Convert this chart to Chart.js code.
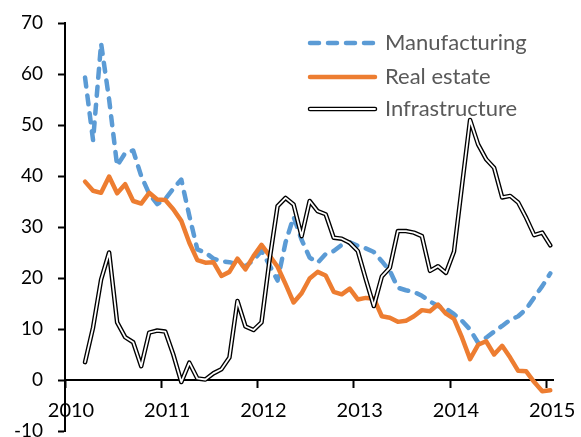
<!DOCTYPE html>
<html>
<head>
<meta charset="utf-8">
<script src="https://cdn.jsdelivr.net/npm/chart.js@4/dist/chart.umd.min.js"></script>
<style>
html,body{margin:0;padding:0;background:#fff;}
#wrap{width:581px;height:437px;position:relative;}
</style>
</head>
<body>
<div id="wrap"><canvas id="c" width="581" height="437"></canvas></div>
<script>
// ---- data ----
const months = [
  '2010-03','2010-04','2010-05','2010-06','2010-07','2010-08','2010-09','2010-10','2010-11','2010-12',
  '2011-01','2011-02','2011-03','2011-04','2011-05','2011-06','2011-07','2011-08','2011-09','2011-10','2011-11','2011-12',
  '2012-01','2012-02','2012-03','2012-04','2012-05','2012-06','2012-07','2012-08','2012-09','2012-10','2012-11','2012-12',
  '2013-01','2013-02','2013-03','2013-04','2013-05','2013-06','2013-07','2013-08','2013-09','2013-10','2013-11','2013-12',
  '2014-01','2014-02','2014-03','2014-04','2014-05','2014-06','2014-07','2014-08','2014-09','2014-10','2014-11','2014-12',
  '2015-01'
];
const manufacturing = [
  59.3, 47, 66, 55, 42, 44.5, 45, 40, 36.5, 34.5,
  35.5, 37.5, 39.3, 32.2, 25.6, 25, 23.8, 23.3, 23.1, 22.7, 22.3, 23.5,
  25.3, 22.5, 19.5, 27, 32, 27.5, 24, 23, 24.7, 25.3, 26.5, 27,
  26.3, 25.8, 25.1, 23.3, 21.4, 18.1, 17.6, 17.3, 16.5, 15.4, 14.5, 14,
  12.9, 11.6, 9.9, 7.3, 8.3, 9.5, 10.6, 11.8, 12.5, 13.9, 16.2, 18.4,
  20.9
];
const realEstate = [
  38.9, 37.1, 36.7, 39.9, 36.6, 38.4, 35.1, 34.6, 36.7, 35.4,
  35.3, 33.5, 31.2, 26.9, 23.5, 23, 23.1, 20.4, 21.2, 23.8, 21.7, 24.3,
  26.5, 24.4, 22.2, 18.8, 15.2, 17, 19.9, 21.2, 20.5, 17.3, 16.8, 17.9,
  15.8, 16.1, 16, 12.5, 12.2, 11.4, 11.6, 12.5, 13.7, 13.5, 14.8, 13,
  12, 8.3, 4.1, 6.9, 7.6, 5, 6.7, 4.4, 1.8, 1.7, -0.4, -2.2,
  -2
];
const infrastructure = [
  3.5, 10.3, 19.7, 25, 11.3, 8.4, 7.4, 2.7, 9.3, 9.7,
  9.5, 5, -0.4, 3.4, 0.3, 0.1, 1.3, 2.1, 4.4, 15.5, 10.5, 9.8,
  11.3, 23.5, 34.1, 35.7, 34.4, 28.2, 35.1, 33.1, 32.5, 27.9, 27.7, 26.9,
  25.3, 19.8, 14.5, 20.3, 22, 29.2, 29.2, 28.9, 28.2, 21.4, 22.3, 21,
  25.2, 38.2, 51, 46.2, 43.3, 41.6, 35.8, 36.1, 34.8, 31.8, 28.4, 28.9,
  26.4
];
const seriesNames = ['Manufacturing', 'Real estate', 'Infrastructure'];
const xTickYears = [2010, 2011, 2012, 2013, 2014, 2015];
const yTickValues = [-10, 0, 10, 20, 30, 40, 50, 60, 70];

// ---- helpers ----
function monthToX(m) {
  const parts = m.split('-').map(Number);
  return parts[0] + (parts[1] - 0.5) / 12;
}
function toPoints(vals) {
  return vals.map((v, i) => ({ x: monthToX(months[i]), y: v }));
}

const BLUE = '#5B9BD5', ORANGE = '#ED7D31', BLACK = '#000000';
const BLUE_DASH = [9, 9];

const legendPlugin = {
  id: 'customLegend',
  afterDraw(chart) {
    const ctx = chart.ctx;
    const a = chart.chartArea;
    const lx0 = a.left + 245, lx1 = a.left + 310, tx = a.left + 320;
    const rows = [a.top + 20, a.top + 54, a.top + 86];
    ctx.save();
    ctx.lineCap = 'round';
    // Manufacturing
    ctx.strokeStyle = BLUE; ctx.lineWidth = 4.5; ctx.setLineDash(BLUE_DASH);
    ctx.beginPath(); ctx.moveTo(lx0, rows[0]); ctx.lineTo(lx1, rows[0]); ctx.stroke();
    ctx.setLineDash([]);
    // Real estate
    ctx.strokeStyle = ORANGE; ctx.lineWidth = 4.5;
    ctx.beginPath(); ctx.moveTo(lx0, rows[1]); ctx.lineTo(lx1, rows[1]); ctx.stroke();
    // Infrastructure (double line)
    ctx.strokeStyle = BLACK; ctx.lineWidth = 4.5;
    ctx.beginPath(); ctx.moveTo(lx0, rows[2]); ctx.lineTo(lx1, rows[2]); ctx.stroke();
    ctx.strokeStyle = '#ffffff'; ctx.lineWidth = 1.8;
    ctx.beginPath(); ctx.moveTo(lx0, rows[2]); ctx.lineTo(lx1, rows[2]); ctx.stroke();
    // texts
    ctx.fillStyle = '#595959';
    ctx.font = '22px Lato';
    ctx.textBaseline = 'middle';
    ctx.textAlign = 'left';
    seriesNames.forEach((n, i) => ctx.fillText(n, tx, rows[i]));
    ctx.restore();
  }
};

new Chart(document.getElementById('c'), {
  type: 'line',
  data: {
    datasets: [
      { label: seriesNames[0], data: toPoints(manufacturing), borderColor: BLUE, borderWidth: 4.5,
        borderDash: BLUE_DASH, borderCapStyle: 'round', borderJoinStyle: 'round', pointRadius: 0, tension: 0, fill: false, order: 4 },
      { label: seriesNames[1], data: toPoints(realEstate), borderColor: ORANGE, borderWidth: 4.5,
        borderCapStyle: 'round', borderJoinStyle: 'round', pointRadius: 0, tension: 0, fill: false, order: 3 },
      { label: seriesNames[2], data: toPoints(infrastructure), borderColor: BLACK, borderWidth: 4.5,
        borderCapStyle: 'round', borderJoinStyle: 'round', pointRadius: 0, tension: 0, fill: false, order: 2 },
      { label: seriesNames[2] + ' inner', data: toPoints(infrastructure), borderColor: '#ffffff', borderWidth: 1.8,
        borderCapStyle: 'round', borderJoinStyle: 'round', pointRadius: 0, tension: 0, fill: false, order: 1 }
    ]
  },
  options: {
    responsive: false,
    maintainAspectRatio: false,
    animation: false,
    devicePixelRatio: 1,
    layout: { padding: { top: 23, right: 28, bottom: 6, left: 0 } },
    plugins: { legend: { display: false }, tooltip: { enabled: false } },
    scales: {
      x: {
        type: 'linear',
        min: 2010,
        max: 2015.07,
        position: { y: 0 },
        afterBuildTicks(s) { s.ticks = xTickYears.map(v => ({ value: v })); },
        afterFit(s) { s.paddingLeft = 0; s.paddingRight = 0; },
        grid: { display: true, drawOnChartArea: false, drawTicks: true, tickLength: 7, tickWidth: 2, tickColor: BLACK },
        border: { display: true, color: BLACK, width: 2 },
        ticks: { color: BLACK, font: { family: 'Lato', size: 20 }, padding: 12, labelOffset: 6,
                 maxRotation: 0, minRotation: 0, autoSkip: false, callback: v => String(v) }
      },
      y: {
        min: -10,
        max: 70,
        afterBuildTicks(s) { s.ticks = yTickValues.map(v => ({ value: v })); },
        afterFit(s) { s.width = 65; s.paddingTop = 0; s.paddingBottom = 0; },
        grid: { display: true, drawOnChartArea: false, drawTicks: true, tickLength: 7, tickWidth: 2, tickColor: BLACK },
        border: { display: true, color: BLACK, width: 2 },
        ticks: { color: BLACK, font: { family: 'Lato', size: 19 }, padding: 15, callback: v => String(v) }
      }
    }
  },
  plugins: [legendPlugin]
});
</script>
</body>
</html>
